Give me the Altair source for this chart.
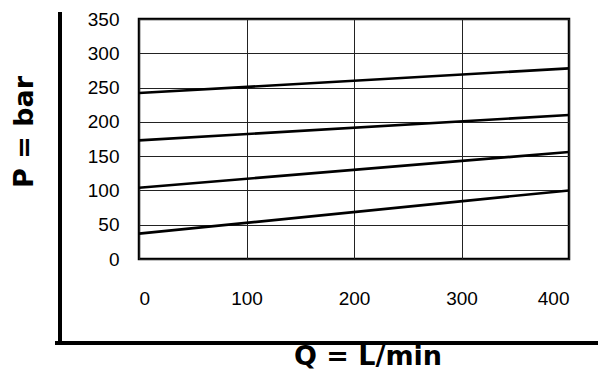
import altair as alt
import pandas as pd

# Data
Q = [0, 400]
P_line1 = [242, 278]
P_line2 = [173, 210]
P_line3 = [104, 156]
P_line4 = [37, 100]
x_ticks = [0, 100, 200, 300, 400]
y_ticks = [0, 50, 100, 150, 200, 250, 300, 350]

rows = []
for name, vals in [("1", P_line1), ("2", P_line2), ("3", P_line3), ("4", P_line4)]:
    for q, p in zip(Q, vals):
        rows.append({"curve": name, "Q": q, "P": p})
df = pd.DataFrame(rows)

FONT = "Liberation Sans"
TFONT = "DejaVu Sans"

lines = alt.Chart(df).mark_line(color="black", strokeWidth=2.6).encode(
    x=alt.X("Q:Q", scale=alt.Scale(domain=[0, 400], nice=False),
            axis=alt.Axis(values=x_ticks, title=None, grid=True, domain=False,
                          ticks=False, tickSize=0, labelPadding=39,
                          labelBaseline="middle", labelFontSize=19,
                          labelFont=FONT, labelColor="black",
                          gridColor="#222", gridWidth=1)),
    y=alt.Y("P:Q", scale=alt.Scale(domain=[0, 350], nice=False),
            axis=alt.Axis(values=y_ticks, title=None, grid=True, domain=False,
                          ticks=False, tickSize=0, labelPadding=20,
                          labelFontSize=19, labelFont=FONT, labelColor="black",
                          gridColor="#222", gridWidth=1)),
    detail="curve:N",
)

one = pd.DataFrame({"a": [0]})

vframe = alt.Chart(one).mark_rule(color="black", strokeWidth=4).encode(
    x=alt.value(-79), y=alt.value(-7), y2=alt.value(326)
)
hframe = alt.Chart(one).mark_rule(color="black", strokeWidth=4).encode(
    y=alt.value(324), x=alt.value(-84), x2=alt.value(480)
)
ytitle = alt.Chart(one).mark_text(
    text="P = bar", angle=270, font=TFONT, fontSize=27, fontWeight="bold",
    color="black", align="center", baseline="middle"
).encode(x=alt.value(-114), y=alt.value(113))
xtitle = alt.Chart(one).mark_text(
    text="Q = L/min", font=TFONT, fontSize=27, fontWeight="bold",
    color="black", align="center", baseline="middle"
).encode(x=alt.value(229), y=alt.value(338))

chart = alt.layer(lines, vframe, hframe, ytitle, xtitle).properties(
    width=430, height=240,
    autosize=alt.AutoSizeParams(type="none"),
    padding={"left": 131, "top": 11, "right": 29, "bottom": 113},
).configure_view(stroke="black", strokeWidth=2.5)

chart.save("out.html", embed_options={"renderer": "svg", "actions": False})
